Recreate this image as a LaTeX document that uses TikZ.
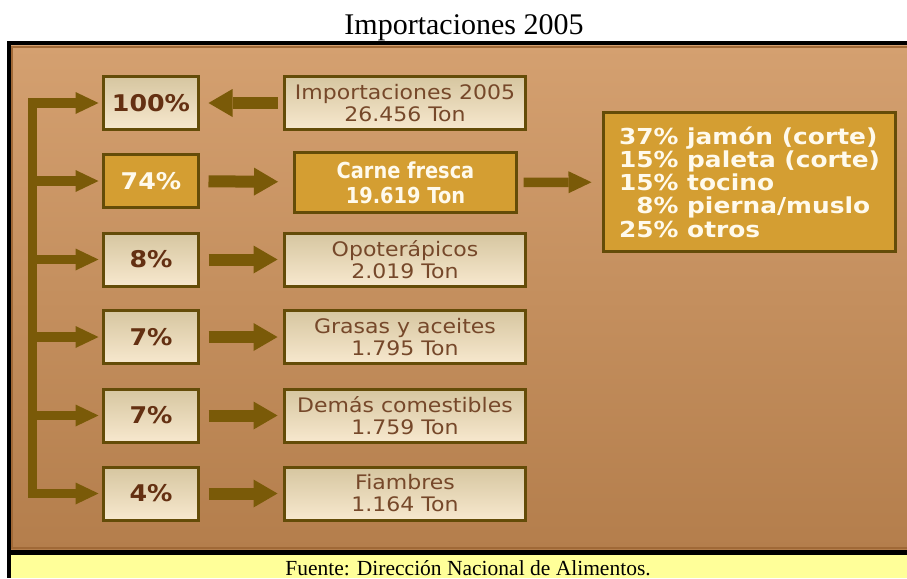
\documentclass[tikz,border=0pt]{standalone}
\usepackage{fontspec}
\setmainfont{Liberation Serif}
\newfontfamily\boxfont{DejaVu Sans}[FakeStretch=1.1]
\newfontfamily\pctfont{DejaVu Sans}[FakeStretch=1.1]
\newfontfamily\carnefont{DejaVu Sans}[FakeStretch=0.88]
\newfontfamily\listfont{DejaVu Sans}[FakeStretch=1.13]
\usetikzlibrary{arrows.meta}
\definecolor{bgTop}{RGB}{212,160,112}
\definecolor{bgBot}{RGB}{180,126,76}
\definecolor{bgEdge}{RGB}{160,105,55}
\definecolor{footY}{RGB}{255,255,153}
\definecolor{arrowC}{RGB}{122,90,8}
\definecolor{boxEdge}{RGB}{100,76,8}
\definecolor{lightTop}{RGB}{214,198,160}
\definecolor{lightBot}{RGB}{247,232,206}
\definecolor{gold}{RGB}{212,158,50}
\definecolor{pctText}{RGB}{100,48,18}
\definecolor{boxText}{RGB}{118,72,42}
\definecolor{goldText}{RGB}{255,250,236}
\tikzset{
  lbox/.style={draw=boxEdge, line width=3pt, top color=lightTop, bottom color=lightBot,
    inner sep=0pt, align=center, text=boxText},
  gbox/.style={draw=boxEdge, line width=3pt, fill=gold, inner sep=0pt, align=center, text=goldText},
  pctbox/.style={minimum width=95pt, minimum height=53pt,
    font=\pctfont\bfseries\fontsize{23}{26}\selectfont},
  catbox/.style={lbox, minimum width=241pt, minimum height=53pt,
    font=\boxfont\fontsize{20}{22}\selectfont},
  fat/.style={draw=arrowC, line width=12pt,
    -{Triangle[width=28pt,length=24pt,line width=0pt]}},
  slim/.style={draw=arrowC, line width=9.5pt,
    -{Triangle[width=22pt,length=23pt,line width=0pt]}},
  trunk/.style={draw=arrowC, line width=9.5pt, line cap=rect}
}
\begin{document}
\begin{tikzpicture}[x=1pt,y=-1pt]
\useasboundingbox (0,0) rectangle (907,578);
% frame and background
\fill[black] (7,41) rectangle (907,578);
\shade[top color=bgTop, bottom color=bgBot] (11,46) rectangle (907,549);
\draw[bgEdge, line width=2pt] (12,47) rectangle (909,548);
\fill[footY] (11,555) rectangle (907,578);
% texts
\node[font=\fontsize{30}{34}\selectfont, anchor=base, inner sep=0pt] (title) at (464,34.5) {Importaciones 2005};
\node[font=\fontsize{21.5}{24}\selectfont, anchor=base, inner sep=0pt] (src) at (468,575) {Fuente: Dirección Nacional de Alimentos.};
% percentage boxes
\node[lbox, pctbox, text=pctText] (p100) at (151,103) {100\%};
\node[gbox, pctbox] (p74) at (151,181) {74\%};
\node[lbox, pctbox, text=pctText] (p8) at (151,259.5) {8\%};
\node[lbox, pctbox, text=pctText] (p7a) at (151,337) {7\%};
\node[lbox, pctbox, text=pctText] (p7b) at (151,415.5) {7\%};
\node[lbox, pctbox, text=pctText] (p4) at (151,493.5) {4\%};
% category boxes
\node[catbox] (imp) at (405,103) {Importaciones 2005\\26.456 Ton};
\node[gbox, minimum width=222pt, minimum height=60pt,
  font=\carnefont\bfseries\fontsize{22}{25}\selectfont] (carne) at (405.5,182.5) {Carne fresca\\19.619 Ton};
\node[catbox] (opo) at (405,259.5) {Opoterápicos\\2.019 Ton};
\node[catbox] (gra) at (405,337) {Grasas y aceites\\1.795 Ton};
\node[catbox] (dem) at (405,415.5) {Demás comestibles\\1.759 Ton};
\node[catbox] (fia) at (405,493.5) {Fiambres\\1.164 Ton};
% detail box
\node[gbox, minimum width=292pt, minimum height=139pt, align=left,
  font=\listfont\bfseries\fontsize{22}{23.3}\selectfont] (lst) at (749.5,182)
  {37\% jamón (corte)\\15\% paleta (corte)\\15\% tocino\\\phantom{1}8\% pierna/muslo\\25\% otros};
% trunk
\coordinate (tTop) at (32.5,103);
\coordinate (tBot) at (32.5,493.5);
\draw[trunk] (tTop) -- (tBot);
\foreach \n in {p100,p74,p8,p7a,p7b,p4}
  \draw[slim, shorten >=3.5pt] (tTop |- \n.west) -- (\n.west);
% row arrows
\draw[fat, shorten <=5.5pt, shorten >=8.5pt] (imp) -- (p100);
\draw[fat, shorten <=8.5pt, shorten >=15pt] (p74) -- (carne);
\draw[fat, shorten <=8.5pt, shorten >=5.5pt] (p8) -- (opo);
\draw[fat, shorten <=8.5pt, shorten >=5.5pt] (p7a) -- (gra);
\draw[fat, shorten <=8.5pt, shorten >=5.5pt] (p7b) -- (dem);
\draw[fat, shorten <=8.5pt, shorten >=5.5pt] (p4) -- (fia);
\draw[slim, shorten <=5.5pt, shorten >=10.5pt] (carne) -- (lst);
\end{tikzpicture}
\end{document}
